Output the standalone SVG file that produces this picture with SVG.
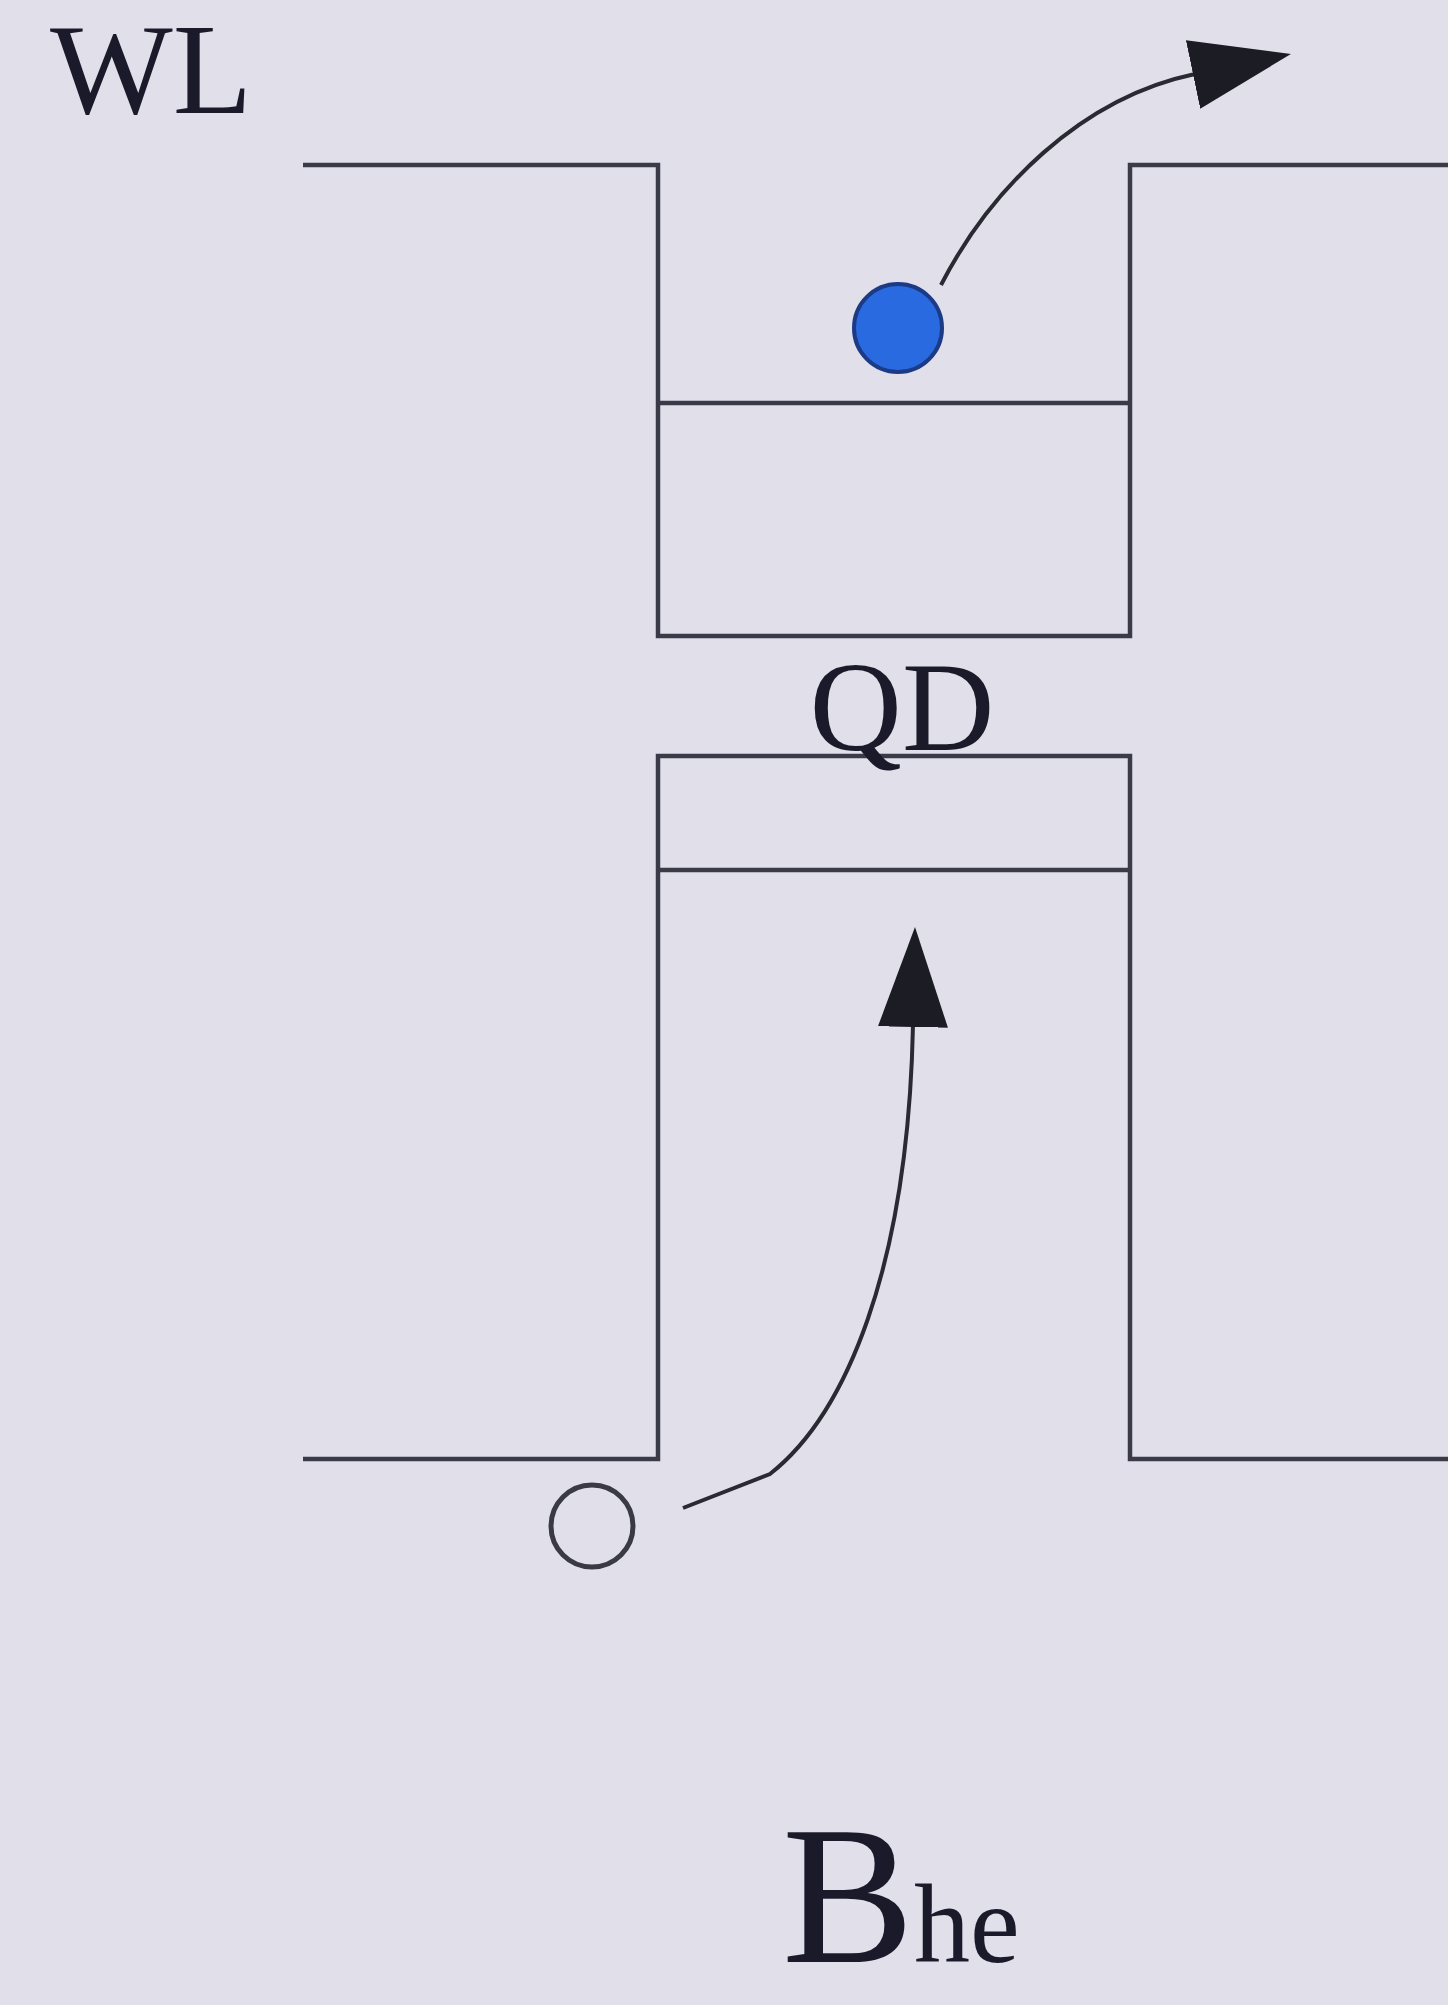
<svg xmlns="http://www.w3.org/2000/svg" width="1448" height="2005" viewBox="0 0 1448 2005">
<style>
.ln{fill:none;stroke:#3a3a48;stroke-width:4.5;stroke-linejoin:miter}
.cv{fill:none;stroke:#2a2a32;stroke-width:4}
.tx{font-family:"Liberation Serif","Times New Roman",serif;fill:#1a1a2a}
</style>
<defs>
<marker id="ah" viewBox="0 0 100 70" refX="2" refY="35" markerWidth="100" markerHeight="70" markerUnits="userSpaceOnUse" orient="auto">
<path d="M0,0 L100,35 L0,70 z" fill="#1c1c24"/>
</marker>
</defs>
<rect width="1448" height="2005" fill="#e1e0ea"/>
<g id="band-top">
<path class="ln" d="M303,165 H658 V636 H1130 V165 H1448"/>
<line class="ln" x1="658" y1="403" x2="1130" y2="403"/>
</g>
<g id="band-bottom">
<path class="ln" d="M303,1459 H658 V756 H1130 V1459 H1448"/>
<line class="ln" x1="658" y1="870" x2="1130" y2="870"/>
</g>
<g id="electron">
<circle cx="898" cy="328" r="44" fill="#2a6ae0" stroke="#1c3a86" stroke-width="4"/>
</g>
<g id="hole">
<circle cx="592" cy="1526" r="41" fill="none" stroke="#3a3a44" stroke-width="5"/>
</g>
<g id="connectors">
<path class="cv" d="M941,285 C990,190 1080,98 1195,74" marker-end="url(#ah)"/>
<path class="cv" d="M683,1508 L770,1474 C845,1415 908,1270 913,1025" marker-end="url(#ah)"/>
</g>
<g id="labels">
<text class="tx" x="50" y="113" font-size="130">WL</text>
<text class="tx" x="902" y="750" font-size="128" text-anchor="middle">QD</text>
<text class="tx" x="782" y="1962" font-size="198">B<tspan font-size="112">he</tspan></text>
</g>
</svg>
